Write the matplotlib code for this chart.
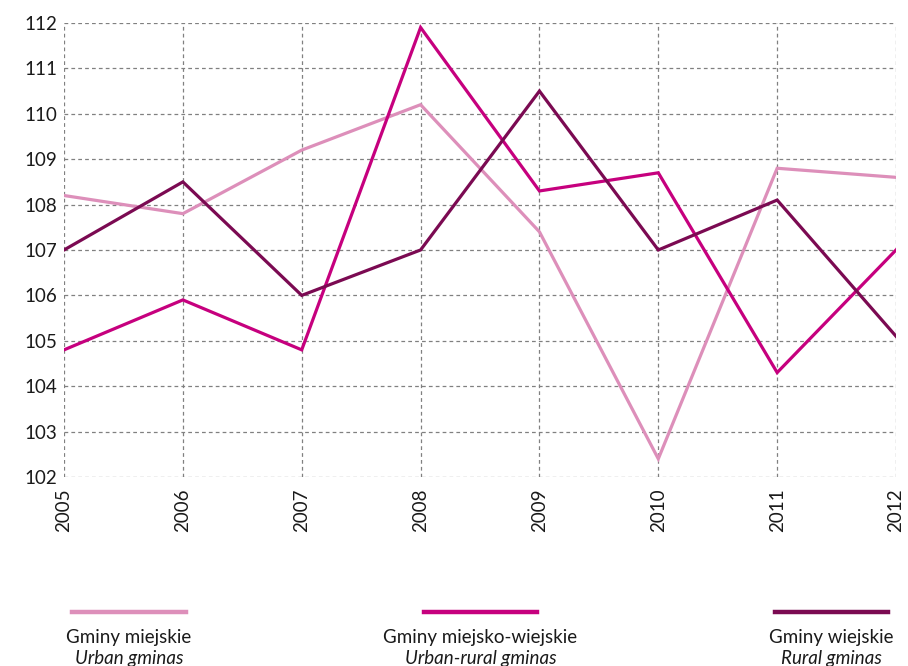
import matplotlib
matplotlib.use("Agg")
import matplotlib.pyplot as plt
from matplotlib.lines import Line2D

plt.rcParams['font.family'] = ['Lato', 'DejaVu Sans']

years = [2005, 2006, 2007, 2008, 2009, 2010, 2011, 2012]
urban = [108.2, 107.8, 109.2, 110.2, 107.4, 102.4, 108.8, 108.6]
urban_rural = [104.8, 105.9, 104.8, 111.9, 108.3, 108.7, 104.3, 107.0]
rural = [107.0, 108.5, 106.0, 107.0, 110.5, 107.0, 108.1, 105.1]

labels_pl = ["Gminy miejskie", "Gminy miejsko-wiejskie", "Gminy wiejskie"]
labels_en = ["Urban gminas", "Urban-rural gminas", "Rural gminas"]
colors = ["#DD8FBA", "#C6007E", "#7B0A52"]
series = [urban, urban_rural, rural]

fig = plt.figure(figsize=(9.08, 6.66), dpi=100)
ax = fig.add_axes([0.0705, 0.2838, 0.9163, 0.6817])

for vals, c in zip(series, colors):
    ax.plot(years, vals, color=c, lw=2.3, solid_joinstyle='miter', zorder=3)

ax.set_xlim(2005, 2012)
ax.set_ylim(102, 112)
ax.set_yticks(range(102, 113))
ax.set_xticks(years)
ax.set_xticklabels([str(y) for y in years], rotation=90)
ax.grid(True, color='#808080', linestyle=(0, (3, 2.5)), lw=0.9)
for s in ax.spines.values():
    s.set_visible(False)
ax.tick_params(length=0, labelsize=13.5, colors='#1a1a1a', pad=5)
ax.tick_params(axis='x', pad=8)

centers = [0.142, 0.529, 0.916]
for cx, c, lp, le in zip(centers, colors, labels_pl, labels_en):
    fig.add_artist(Line2D([cx - 0.0625, cx + 0.0625], [0.081, 0.081], color=c, lw=3.2,
                          transform=fig.transFigure))
    fig.text(cx, 0.043, lp, ha='center', va='center', fontsize=13.5, color='#1a1a1a')
    fig.text(cx, 0.012, le, ha='center', va='center', fontsize=13.5, style='italic', color='#1a1a1a')

fig.savefig("out.png", dpi=100)
